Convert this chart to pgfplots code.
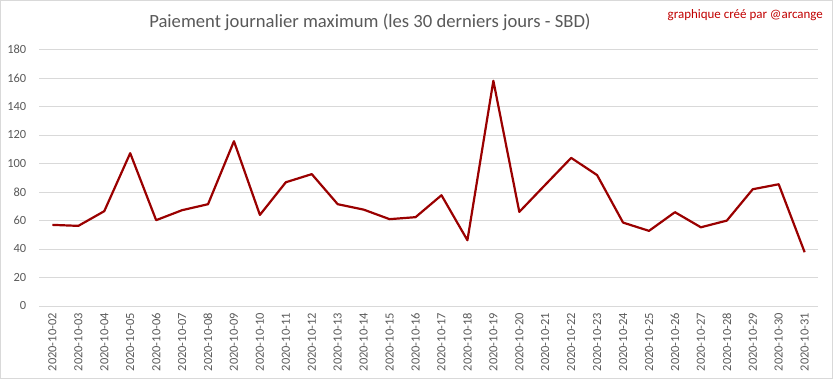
\documentclass[border=0pt]{standalone}
\usepackage{pgfplots}
\pgfplotsset{compat=1.18}
\usepackage{fontspec}
\setmainfont{Carlito}
\definecolor{linered}{HTML}{9A0000}
\definecolor{txtgray}{HTML}{595959}
\definecolor{gridgray}{HTML}{D9D9D9}
\definecolor{wmred}{HTML}{C00000}
\begin{document}
\begin{tikzpicture}[x=1bp,y=1bp]
\draw[gridgray, line width=0.8bp] (0.5,0.5) rectangle (832.5,378.5);
\begin{axis}[
  at={(39.5bp,73bp)}, anchor=south west,
  scale only axis, width=778bp, height=256.5bp,
  xmin=-0.5, xmax=29.5, ymin=0, ymax=180,
  ytick={0,20,...,180},
  xtick={0,...,29},
  xticklabels={2020-10-02,2020-10-03,2020-10-04,2020-10-05,2020-10-06,2020-10-07,2020-10-08,2020-10-09,2020-10-10,2020-10-11,2020-10-12,2020-10-13,2020-10-14,2020-10-15,2020-10-16,2020-10-17,2020-10-18,2020-10-19,2020-10-20,2020-10-21,2020-10-22,2020-10-23,2020-10-24,2020-10-25,2020-10-26,2020-10-27,2020-10-28,2020-10-29,2020-10-30,2020-10-31},
  ymajorgrids, grid style={gridgray, line width=0.8bp},
  axis line style={draw=none},
  axis x line*=bottom,
  x axis line style={draw=gridgray, line width=0.8bp},
  major tick length=0pt,
  /pgf/number format/assume math mode=true,
  ticklabel style={font=\fontsize{12.5}{13}\selectfont, text=txtgray},
  xticklabel style={rotate=90, anchor=east, inner sep=0pt, xshift=-7bp},
  yticklabel style={anchor=east, inner sep=0pt, xshift=-13bp},
  clip=false,
]
\addplot[linered, line width=2.2bp, line join=round] coordinates {
(0,56.9) (1,56.2) (2,66.5) (3,107.2) (4,60.2) (5,67.2) (6,71.4) (7,115.6) (8,63.9)
(9,86.8) (10,92.5) (11,71.4) (12,67.6) (13,60.9) (14,62.3) (15,77.7) (16,46.1)
(17,158.0) (18,66.0) (19,85.0) (20,103.9) (21,91.8) (22,58.5) (23,52.7) (24,65.8)
(25,55.2) (26,59.9) (27,81.9) (28,85.4) (29,37.7)
};
\end{axis}
\node[text=txtgray, font=\fontsize{18.7}{20}\selectfont] at (370,357) {Paiement journalier maximum (les 30 derniers jours - SBD)};
\node[text=wmred, font=\fontsize{13}{14}\selectfont, anchor=east, inner sep=0pt] at (823,364) {graphique créé par @arcange};
\end{tikzpicture}
\end{document}
